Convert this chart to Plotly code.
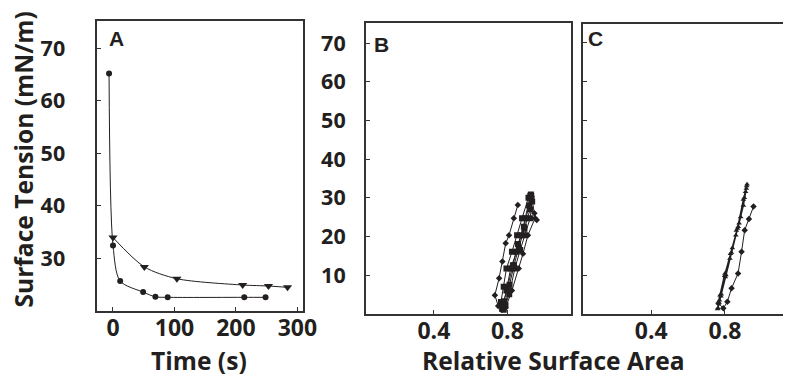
import plotly.graph_objects as go

W, H = 797, 376
INK = "#231f20"
AX = "#333333"

# ---- Panel A: adsorption kinetics, surface tension vs time ----
a_time_circ = [-6.4, 0, 11.7, 49, 69, 89, 213.6, 248.2]
a_st_circ = [65.2, 32.4, 25.6, 23.5, 22.6, 22.5, 22.5, 22.5]
a_time_tri = [0, 51, 104, 211, 253, 284]
a_st_tri = [33.9, 28.3, 26.05, 24.85, 24.66, 24.4]

# ---- Panel B: cyclic compression/expansion ----
b_area_first = [0.857, 0.835, 0.809, 0.791, 0.773, 0.755, 0.732, 0.750, 0.770,
                0.790, 0.825, 0.862, 0.885, 0.912, 0.951, 0.960, 0.947, 0.932]
b_st_first = [28.1, 24.7, 20.3, 18.2, 13.5, 9.2, 4.8, 2.0, 1.0,
              1.5, 6.0, 11.7, 15.5, 20.3, 24.7, 24.2, 26.0, 30.3]
b_area_later = [0.930, 0.915, 0.880, 0.853, 0.825, 0.795, 0.780, 0.765, 0.772,
                0.780, 0.810, 0.841, 0.870, 0.894, 0.924, 0.935, 0.928,
                0.925, 0.898, 0.876, 0.850, 0.818, 0.795, 0.775, 0.778,
                0.790, 0.812, 0.836, 0.862, 0.893, 0.924, 0.930,
                0.918, 0.890, 0.858, 0.830, 0.800, 0.782, 0.776]
b_st_later = [30.5, 30.0, 24.7, 20.3, 16.0, 11.7, 7.0, 3.0, 1.2,
              1.0, 5.0, 11.7, 16.5, 20.3, 24.7, 29.0, 30.8,
              30.5, 24.7, 20.3, 16.0, 11.7, 6.0, 2.0, 1.4,
              2.2, 7.5, 12.5, 17.0, 22.0, 27.0, 29.8,
              28.0, 22.5, 18.0, 12.5, 7.0, 3.2, 1.8]

# ---- Panel C: cyclic compression/expansion ----
c_area_first = [0.955, 0.930, 0.907, 0.890, 0.871, 0.836, 0.813, 0.791, 0.765]
c_st_first = [27.7, 24.5, 21.6, 16.0, 10.4, 6.6, 3.1, 1.4, 2.7]
c_area_later = [0.765, 0.773, 0.800, 0.827, 0.859, 0.877, 0.900, 0.916, 0.920,
                0.905, 0.872, 0.840, 0.805, 0.780, 0.762,
                0.770, 0.798, 0.830, 0.862, 0.885, 0.912, 0.918,
                0.900, 0.868, 0.835, 0.802, 0.778, 0.760]
c_st_later = [2.7, 4.8, 10.4, 14.3, 20.3, 23.4, 28.0, 32.4, 33.5,
              30.0, 22.5, 17.0, 10.0, 5.0, 1.5,
              3.5, 9.8, 15.5, 21.5, 25.0, 31.5, 33.0,
              29.5, 22.0, 15.8, 9.5, 4.5, 1.2]

a_xticks = [0, 100, 200, 300]
a_yticks = [30, 40, 50, 60, 70]
bc_xticks = [0.4, 0.8]
bc_yticks = [10, 20, 30, 40, 50, 60, 70]

line_style = dict(color=INK, width=1)

fig = go.Figure()
fig.add_trace(go.Scatter(x=a_time_circ, y=a_st_circ, mode="lines+markers",
                         line=dict(shape="spline", smoothing=0.8, **line_style),
                         marker=dict(symbol="circle", size=6, color=INK),
                         xaxis="x", yaxis="y"))
fig.add_trace(go.Scatter(x=a_time_tri, y=a_st_tri, mode="lines+markers",
                         line=dict(shape="spline", smoothing=0.8, **line_style),
                         marker=dict(symbol="triangle-down", size=8, color=INK),
                         xaxis="x", yaxis="y"))
fig.add_trace(go.Scatter(x=b_area_first, y=b_st_first, mode="lines+markers",
                         line=line_style,
                         marker=dict(symbol="diamond", size=5, color=INK),
                         xaxis="x2", yaxis="y2"))
fig.add_trace(go.Scatter(x=b_area_later, y=b_st_later, mode="lines+markers",
                         line=line_style,
                         marker=dict(symbol="square", size=6, color=INK),
                         xaxis="x2", yaxis="y2"))
fig.add_trace(go.Scatter(x=c_area_first, y=c_st_first, mode="lines+markers",
                         line=line_style,
                         marker=dict(symbol="diamond", size=5, color=INK),
                         xaxis="x3", yaxis="y3"))
fig.add_trace(go.Scatter(x=c_area_later, y=c_st_later, mode="lines+markers",
                         line=dict(color=INK, width=1.5),
                         marker=dict(symbol="triangle-up", size=5, color=INK),
                         xaxis="x3", yaxis="y3"))

ytickfont = dict(family="Open Sans", size=21.5, color=INK, weight=700)
xtickfont = dict(family="Open Sans", size=23, color=INK, weight=700)


def px_dom(a, b, total):
    return [a / total, b / total]


def py_dom(top, bottom):
    return [(H - bottom) / H, (H - top) / H]


common = dict(showgrid=False, zeroline=False, showline=True, linecolor=AX,
              linewidth=1.5, ticks="inside", ticklen=4, tickcolor=AX,
              tickwidth=1)

fig.update_layout(
    width=W, height=H,
    margin=dict(l=0, r=0, t=0, b=0),
    paper_bgcolor="white", plot_bgcolor="white",
    showlegend=False,
    xaxis=dict(domain=px_dom(99, 308.7, W), range=[-25.6, 309.6],
               tickvals=a_xticks, mirror=True, anchor="y",
               ticklabelstandoff=-4, tickfont=xtickfont, **common),
    yaxis=dict(domain=py_dom(21.3, 310.7), range=[19.95, 75.15],
               tickvals=a_yticks, mirror=True, anchor="x",
               ticklabelstandoff=26, tickfont=ytickfont, **common),
    xaxis2=dict(domain=px_dom(372.3, 581.3, W), range=[0.029, 1.147],
                tickvals=bc_xticks, ticktext=["0.4", "0.8"], mirror=True,
                anchor="y2", ticklabelstandoff=-4, tickfont=xtickfont, **common),
    yaxis2=dict(domain=py_dom(23.3, 313.7), range=[0, 75.1],
                tickvals=bc_yticks, mirror=True, anchor="x2",
                ticklabelstandoff=14, tickfont=ytickfont, **common),
    xaxis3=dict(domain=px_dom(593.3, W, W), range=[0.029, 1.115],
                tickvals=bc_xticks, ticktext=["0.4", "0.8"], mirror=True,
                anchor="y3", ticklabelstandoff=-4, tickfont=xtickfont, **common),
    yaxis3=dict(domain=py_dom(24, 313.7), range=[0, 74.9],
                tickvals=bc_yticks, showticklabels=False, mirror=False,
                anchor="x3", **common),
)

title_font = dict(family="Open Sans", size=24.6, color=INK, weight=700)
panel_font = dict(family="Liberation Sans", size=21, color=INK, weight=700)


def note(text, x, y, font, angle=0):
    fig.add_annotation(text=text, xref="paper", yref="paper",
                       x=x / W, y=(H - y) / H, xanchor="center",
                       yanchor="middle", showarrow=False, font=font,
                       textangle=angle)


note("Surface Tension (mN/m)", 24, 160, title_font, angle=-90)
note("Time (s)", 203, 360, title_font)
note("Relative Surface Area", 563, 360, title_font)
note("A", 118.5, 39, panel_font)
note("B", 388, 44, panel_font)
note("C", 606.5, 38, panel_font)

fig.write_html("out.html")
